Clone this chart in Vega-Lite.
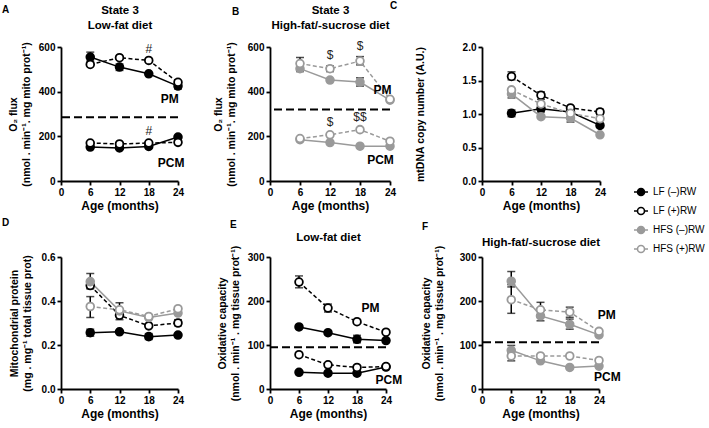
{
"$schema":"https://vega.github.io/schema/vega-lite/v6.json",
"background":"white",
"autosize":{"type":"none"},
"padding":{"left":61,"top":47,"right":648,"bottom":381},
"config":{
 "font":"Liberation Sans",
 "view":{"stroke":null},
 "axis":{"domainColor":"black","domainWidth":1.8,"tickColor":"black","tickWidth":1.8,"tickSize":4,"labelColor":"black","labelFontSize":10,"labelFontWeight":"bold","labelPadding":2,"labelFlush":false,"titleColor":"black","titleFontWeight":"bold","grid":false,"labelFont":"Liberation Sans","titleFont":"Liberation Sans"},
 "axisX":{"titleFontSize":12,"titlePadding":3},
 "axisY":{"titleFontSize":10.5,"titleLineHeight":12.5},
 "title":{"font":"Liberation Sans","fontSize":10,"fontWeight":"bold","color":"black"},
 "legend":{"symbolType":"M-1,0L-0.5,0M0.5,0L1,0M0.5,0A0.5,0.5,0,1,1,-0.5,0A0.5,0.5,0,1,1,0.5,0Z"}
},
"datasets":{
 "pts":[
  {"p":"A","g":"LF (–)RW","s":"PM","a":6,"v":555},{"p":"A","g":"LF (–)RW","s":"PM","a":12,"v":510},{"p":"A","g":"LF (–)RW","s":"PM","a":18,"v":480},{"p":"A","g":"LF (–)RW","s":"PM","a":24,"v":425},
  {"p":"A","g":"LF (+)RW","s":"PM","a":6,"v":522},{"p":"A","g":"LF (+)RW","s":"PM","a":12,"v":552},{"p":"A","g":"LF (+)RW","s":"PM","a":18,"v":540},{"p":"A","g":"LF (+)RW","s":"PM","a":24,"v":442},
  {"p":"A","g":"LF (–)RW","s":"PCM","a":6,"v":152},{"p":"A","g":"LF (–)RW","s":"PCM","a":12,"v":148},{"p":"A","g":"LF (–)RW","s":"PCM","a":18,"v":155},{"p":"A","g":"LF (–)RW","s":"PCM","a":24,"v":197},
  {"p":"A","g":"LF (+)RW","s":"PCM","a":6,"v":170},{"p":"A","g":"LF (+)RW","s":"PCM","a":12,"v":166},{"p":"A","g":"LF (+)RW","s":"PCM","a":18,"v":170},{"p":"A","g":"LF (+)RW","s":"PCM","a":24,"v":173},
  {"p":"B","g":"HFS (–)RW","s":"PM","a":6,"v":503},{"p":"B","g":"HFS (–)RW","s":"PM","a":12,"v":452},{"p":"B","g":"HFS (–)RW","s":"PM","a":18,"v":443},{"p":"B","g":"HFS (–)RW","s":"PM","a":24,"v":362},
  {"p":"B","g":"HFS (+)RW","s":"PM","a":6,"v":526},{"p":"B","g":"HFS (+)RW","s":"PM","a":12,"v":503},{"p":"B","g":"HFS (+)RW","s":"PM","a":18,"v":537},{"p":"B","g":"HFS (+)RW","s":"PM","a":24,"v":366},
  {"p":"B","g":"HFS (–)RW","s":"PCM","a":6,"v":185},{"p":"B","g":"HFS (–)RW","s":"PCM","a":12,"v":172},{"p":"B","g":"HFS (–)RW","s":"PCM","a":18,"v":156},{"p":"B","g":"HFS (–)RW","s":"PCM","a":24,"v":156},
  {"p":"B","g":"HFS (+)RW","s":"PCM","a":6,"v":190},{"p":"B","g":"HFS (+)RW","s":"PCM","a":12,"v":207},{"p":"B","g":"HFS (+)RW","s":"PCM","a":18,"v":230},{"p":"B","g":"HFS (+)RW","s":"PCM","a":24,"v":178},
  {"p":"C","g":"LF (–)RW","s":"x","a":6,"v":1.01},{"p":"C","g":"LF (–)RW","s":"x","a":12,"v":1.08},{"p":"C","g":"LF (–)RW","s":"x","a":18,"v":1.03},{"p":"C","g":"LF (–)RW","s":"x","a":24,"v":0.83},
  {"p":"C","g":"LF (+)RW","s":"x","a":6,"v":1.56},{"p":"C","g":"LF (+)RW","s":"x","a":12,"v":1.28},{"p":"C","g":"LF (+)RW","s":"x","a":18,"v":1.09},{"p":"C","g":"LF (+)RW","s":"x","a":24,"v":1.03},
  {"p":"C","g":"HFS (–)RW","s":"x","a":6,"v":1.30},{"p":"C","g":"HFS (–)RW","s":"x","a":12,"v":0.96},{"p":"C","g":"HFS (–)RW","s":"x","a":18,"v":0.94},{"p":"C","g":"HFS (–)RW","s":"x","a":24,"v":0.69},
  {"p":"C","g":"HFS (+)RW","s":"x","a":6,"v":1.36},{"p":"C","g":"HFS (+)RW","s":"x","a":12,"v":1.15},{"p":"C","g":"HFS (+)RW","s":"x","a":18,"v":1.01},{"p":"C","g":"HFS (+)RW","s":"x","a":24,"v":0.93},
  {"p":"D","g":"LF (–)RW","s":"x","a":6,"v":0.256},{"p":"D","g":"LF (–)RW","s":"x","a":12,"v":0.26},{"p":"D","g":"LF (–)RW","s":"x","a":18,"v":0.238},{"p":"D","g":"LF (–)RW","s":"x","a":24,"v":0.245},
  {"p":"D","g":"LF (+)RW","s":"x","a":6,"v":0.47},{"p":"D","g":"LF (+)RW","s":"x","a":12,"v":0.335},{"p":"D","g":"LF (+)RW","s":"x","a":18,"v":0.287},{"p":"D","g":"LF (+)RW","s":"x","a":24,"v":0.30},
  {"p":"D","g":"HFS (–)RW","s":"x","a":6,"v":0.488},{"p":"D","g":"HFS (–)RW","s":"x","a":12,"v":0.355},{"p":"D","g":"HFS (–)RW","s":"x","a":18,"v":0.325},{"p":"D","g":"HFS (–)RW","s":"x","a":24,"v":0.345},
  {"p":"D","g":"HFS (+)RW","s":"x","a":6,"v":0.375},{"p":"D","g":"HFS (+)RW","s":"x","a":12,"v":0.36},{"p":"D","g":"HFS (+)RW","s":"x","a":18,"v":0.33},{"p":"D","g":"HFS (+)RW","s":"x","a":24,"v":0.365},
  {"p":"E","g":"LF (–)RW","s":"PM","a":6,"v":141},{"p":"E","g":"LF (–)RW","s":"PM","a":12,"v":128},{"p":"E","g":"LF (–)RW","s":"PM","a":18,"v":113},{"p":"E","g":"LF (–)RW","s":"PM","a":24,"v":110},
  {"p":"E","g":"LF (+)RW","s":"PM","a":6,"v":243},{"p":"E","g":"LF (+)RW","s":"PM","a":12,"v":184},{"p":"E","g":"LF (+)RW","s":"PM","a":18,"v":153},{"p":"E","g":"LF (+)RW","s":"PM","a":24,"v":129},
  {"p":"E","g":"LF (–)RW","s":"PCM","a":6,"v":38},{"p":"E","g":"LF (–)RW","s":"PCM","a":12,"v":36},{"p":"E","g":"LF (–)RW","s":"PCM","a":18,"v":36},{"p":"E","g":"LF (–)RW","s":"PCM","a":24,"v":50},
  {"p":"E","g":"LF (+)RW","s":"PCM","a":6,"v":78},{"p":"E","g":"LF (+)RW","s":"PCM","a":12,"v":55},{"p":"E","g":"LF (+)RW","s":"PCM","a":18,"v":49},{"p":"E","g":"LF (+)RW","s":"PCM","a":24,"v":51},
  {"p":"F","g":"HFS (–)RW","s":"PM","a":6,"v":245},{"p":"F","g":"HFS (–)RW","s":"PM","a":12,"v":166},{"p":"F","g":"HFS (–)RW","s":"PM","a":18,"v":147},{"p":"F","g":"HFS (–)RW","s":"PM","a":24,"v":123},
  {"p":"F","g":"HFS (+)RW","s":"PM","a":6,"v":203},{"p":"F","g":"HFS (+)RW","s":"PM","a":12,"v":180},{"p":"F","g":"HFS (+)RW","s":"PM","a":18,"v":175},{"p":"F","g":"HFS (+)RW","s":"PM","a":24,"v":131},
  {"p":"F","g":"HFS (–)RW","s":"PCM","a":6,"v":88},{"p":"F","g":"HFS (–)RW","s":"PCM","a":12,"v":64},{"p":"F","g":"HFS (–)RW","s":"PCM","a":18,"v":49},{"p":"F","g":"HFS (–)RW","s":"PCM","a":24,"v":52},
  {"p":"F","g":"HFS (+)RW","s":"PCM","a":6,"v":75},{"p":"F","g":"HFS (+)RW","s":"PCM","a":12,"v":75},{"p":"F","g":"HFS (+)RW","s":"PCM","a":18,"v":75},{"p":"F","g":"HFS (+)RW","s":"PCM","a":24,"v":65}
 ],
 "err":[
  {"p":"A","a":6,"lo":537,"hi":577},{"p":"A","a":12,"lo":495,"hi":524},{"p":"A","a":24,"lo":412,"hi":437},
  {"p":"B","a":6,"lo":505,"hi":553},{"p":"B","a":6,"lo":490,"hi":512},{"p":"B","a":12,"lo":490,"hi":515},{"p":"B","a":18,"lo":520,"hi":557},{"p":"B","a":18,"lo":425,"hi":462},
  {"p":"C","a":6,"lo":0.96,"hi":1.06},{"p":"C","a":12,"lo":1.03,"hi":1.13},{"p":"C","a":6,"lo":1.51,"hi":1.63},{"p":"C","a":12,"lo":1.22,"hi":1.33},{"p":"C","a":6,"lo":1.24,"hi":1.36},{"p":"C","a":18,"lo":0.88,"hi":1.0},{"p":"C","a":24,"lo":0.99,"hi":1.07},
  {"p":"D","a":6,"lo":0.24,"hi":0.272},{"p":"D","a":18,"lo":0.225,"hi":0.252},{"p":"D","a":6,"lo":0.455,"hi":0.49},{"p":"D","a":6,"lo":0.46,"hi":0.525},{"p":"D","a":6,"lo":0.325,"hi":0.42},{"p":"D","a":12,"lo":0.315,"hi":0.355},{"p":"D","a":12,"lo":0.34,"hi":0.392},{"p":"D","a":24,"lo":0.288,"hi":0.315},
  {"p":"E","a":6,"lo":230,"hi":257},{"p":"E","a":12,"lo":175,"hi":193},{"p":"E","a":18,"lo":105,"hi":122},
  {"p":"F","a":6,"lo":232,"hi":267},{"p":"F","a":6,"lo":172,"hi":237},{"p":"F","a":12,"lo":155,"hi":178},{"p":"F","a":12,"lo":168,"hi":197},{"p":"F","a":18,"lo":136,"hi":159},{"p":"F","a":18,"lo":163,"hi":186},{"p":"F","a":6,"lo":79,"hi":99},{"p":"F","a":6,"lo":64,"hi":84}
 ],
 "sep":[{"p":"A","v":285},{"p":"B","v":320},{"p":"E","v":95},{"p":"F","v":106}],
 "ann":[
  {"p":"A","k":"L","t":"PM","a":22.3,"v":367},{"p":"A","k":"L","t":"PCM","a":22.6,"v":82},
  {"p":"A","k":"S","t":"#","a":18,"v":592},{"p":"A","k":"S","t":"#","a":18,"v":222},
  {"p":"B","k":"L","t":"PM","a":22.5,"v":406},{"p":"B","k":"L","t":"PCM","a":22.1,"v":94},
  {"p":"B","k":"S","t":"$","a":12,"v":565},{"p":"B","k":"S","t":"$","a":18,"v":603},{"p":"B","k":"S","t":"$","a":12,"v":263},{"p":"B","k":"S","t":"$$","a":18,"v":287},
  {"p":"E","k":"L","t":"PM","a":20.8,"v":183},{"p":"E","k":"L","t":"PCM","a":24.6,"v":20},
  {"p":"F","k":"L","t":"PM","a":25.6,"v":169},{"p":"F","k":"L","t":"PCM","a":25.7,"v":28}
 ]
},
"columns":3,
"spacing":{"row":76,"column":92},
"bounds":"flush",
"concat":[
  {"width":117,"height":134,
   "title":{"text":"A","anchor":"start","frame":"group","dx":-59,"dy":15},
   "resolve":{"axis":{"x":"independent","y":"independent"}},
   "layer":[
    {"data":{"name":"sep"},"transform":[{"filter":"datum.p==='A'"}],"mark":{"type":"rule","color":"black","strokeWidth":2,"strokeDash":[8,4]},"encoding":{"y":{"field":"v","type":"quantitative","scale":{"domain":[0,600],"nice":false},"axis":null}}},
    {"data":{"name":"err"},"transform":[{"filter":"datum.p==='A'"}],"mark":{"type":"rule","color":"black","strokeWidth":1.5},"encoding":{"x":{"field":"a","type":"quantitative","scale":{"domain":[0,24],"nice":false},"axis":null},"y":{"field":"lo","type":"quantitative","scale":{"domain":[0,600],"nice":false},"axis":null},"y2":{"field":"hi"}}},
    {"data":{"name":"err"},"transform":[{"filter":"datum.p==='A'"},{"fold":["lo","hi"],"as":["kk","yv"]}],"mark":{"type":"tick","orient":"horizontal","color":"black","size":8,"thickness":1.5},"encoding":{"x":{"field":"a","type":"quantitative","axis":null},"y":{"field":"yv","type":"quantitative","axis":null}}},
    {"data":{"name":"pts"},"transform":[{"filter":"datum.p==='A' && indexof(datum.g,'(–)')>=0"}],"mark":{"type":"line","strokeWidth":1.5},"encoding":{
      "x":{"field":"a","type":"quantitative","scale":{"domain":[0,24],"nice":false},"axis":{"values":[0,6,12,18,24],"title":"Age (months)"}},
      "y":{"field":"v","type":"quantitative","scale":{"domain":[0,600],"nice":false},"axis":{"values":[0,200,400,600],"title":["O₂ flux","(nmol . min⁻¹. mg mito prot⁻¹)"],"titlePadding":7}},
      "stroke":{"field":"g","type":"nominal","scale":{"domain":["LF (–)RW","LF (+)RW","HFS (–)RW","HFS (+)RW"],"range":["#000000","#000000","#9a9a9a","#9a9a9a"]}},
      "detail":{"field":"s"}}},
    {"data":{"name":"pts"},"transform":[{"filter":"datum.p==='A' && indexof(datum.g,'(+)')>=0"}],"mark":{"type":"line","strokeWidth":1.5,"strokeDash":[4,2.5]},"encoding":{
      "x":{"field":"a","type":"quantitative","axis":null},
      "y":{"field":"v","type":"quantitative","axis":null},
      "stroke":{"field":"g","type":"nominal"},
      "detail":{"field":"s"}}},
    {"data":{"name":"pts"},"transform":[{"filter":"datum.p==='A'"}],"mark":{"type":"point","shape":"circle","size":60,"strokeWidth":1.8,"opacity":1},"encoding":{
      "x":{"field":"a","type":"quantitative","axis":null},
      "y":{"field":"v","type":"quantitative","axis":null},
      "stroke":{"field":"g","type":"nominal","legend":{"title":null,"orient":"none","legendX":572,"legendY":137,"symbolSize":196,"symbolStrokeWidth":1.6,"labelFontSize":10,"labelFontWeight":"normal","labelColor":"black","rowPadding":4,"labelOffset":4,"symbolType":"M-1,0L-0.5,0M0.5,0L1,0M0.5,0A0.5,0.5,0,1,1,-0.5,0A0.5,0.5,0,1,1,0.5,0Z"}},
      "fill":{"field":"g","type":"nominal","scale":{"domain":["LF (–)RW","LF (+)RW","HFS (–)RW","HFS (+)RW"],"range":["#000000","#ffffff","#9a9a9a","#ffffff"]},"legend":{"title":null,"orient":"none","legendX":572,"legendY":137,"symbolSize":196,"symbolStrokeWidth":1.6,"labelFontSize":10,"labelFontWeight":"normal","labelColor":"black","rowPadding":4,"labelOffset":4,"symbolType":"M-1,0L-0.5,0M0.5,0L1,0M0.5,0A0.5,0.5,0,1,1,-0.5,0A0.5,0.5,0,1,1,0.5,0Z"}}}},
    {"data":{"name":"ann"},"transform":[{"filter":"datum.p==='A' && datum.k==='L'"}],"mark":{"type":"text","fontWeight":"bold","fontSize":12,"fill":"black"},"encoding":{
      "x":{"field":"a","type":"quantitative","scale":{"domain":[0,24],"nice":false},"axis":{"orient":"top","domain":false,"ticks":false,"labels":false,"title":["State 3","Low-fat diet"],"titleFontSize":11.5,"titleLineHeight":15,"titlePadding":17}},
      "y":{"field":"v","type":"quantitative","axis":null},"text":{"field":"t"}}},
    {"data":{"name":"ann"},"transform":[{"filter":"datum.p==='A' && datum.k==='S'"}],"mark":{"type":"text","fontSize":12,"fontWeight":"normal","color":"#222222","fill":"#222222"},"encoding":{
      "x":{"field":"a","type":"quantitative","axis":null},"y":{"field":"v","type":"quantitative","axis":null},"text":{"field":"t"},"fill":{"value":"#222222"}}}
   ]},
  {"width":120,"height":134,
   "title":{"text":"B","anchor":"start","frame":"group","dx":-38,"dy":17},
   "resolve":{"axis":{"x":"independent","y":"independent"}},
   "layer":[
    {"data":{"name":"sep"},"transform":[{"filter":"datum.p==='B'"}],"mark":{"type":"rule","color":"black","strokeWidth":2,"strokeDash":[8,4]},"encoding":{"y":{"field":"v","type":"quantitative","scale":{"domain":[0,600],"nice":false},"axis":null}}},
    {"data":{"name":"err"},"transform":[{"filter":"datum.p==='B'"}],"mark":{"type":"rule","color":"black","strokeWidth":1.5},"encoding":{"x":{"field":"a","type":"quantitative","scale":{"domain":[0,24],"nice":false},"axis":null},"y":{"field":"lo","type":"quantitative","scale":{"domain":[0,600],"nice":false},"axis":null},"y2":{"field":"hi"}}},
    {"data":{"name":"err"},"transform":[{"filter":"datum.p==='B'"},{"fold":["lo","hi"],"as":["kk","yv"]}],"mark":{"type":"tick","orient":"horizontal","color":"black","size":8,"thickness":1.5},"encoding":{"x":{"field":"a","type":"quantitative","axis":null},"y":{"field":"yv","type":"quantitative","axis":null}}},
    {"data":{"name":"pts"},"transform":[{"filter":"datum.p==='B' && indexof(datum.g,'(–)')>=0"}],"mark":{"type":"line","strokeWidth":1.5},"encoding":{
      "x":{"field":"a","type":"quantitative","scale":{"domain":[0,24],"nice":false},"axis":{"values":[0,6,12,18,24],"title":"Age (months)"}},
      "y":{"field":"v","type":"quantitative","scale":{"domain":[0,600],"nice":false},"axis":{"values":[0,200,400,600],"title":["O₂ flux","(nmol . min⁻¹. mg mito prot⁻¹)"],"titlePadding":11}},
      "stroke":{"field":"g","type":"nominal"},
      "detail":{"field":"s"}}},
    {"data":{"name":"pts"},"transform":[{"filter":"datum.p==='B' && indexof(datum.g,'(+)')>=0"}],"mark":{"type":"line","strokeWidth":1.5,"strokeDash":[4,2.5]},"encoding":{
      "x":{"field":"a","type":"quantitative","axis":null},
      "y":{"field":"v","type":"quantitative","axis":null},
      "stroke":{"field":"g","type":"nominal"},
      "detail":{"field":"s"}}},
    {"data":{"name":"pts"},"transform":[{"filter":"datum.p==='B'"}],"mark":{"type":"point","shape":"circle","size":60,"strokeWidth":1.8,"opacity":1},"encoding":{
      "x":{"field":"a","type":"quantitative","axis":null},
      "y":{"field":"v","type":"quantitative","axis":null},
      "stroke":{"field":"g","type":"nominal"},
      "fill":{"field":"g","type":"nominal"}}},
    {"data":{"name":"ann"},"transform":[{"filter":"datum.p==='B' && datum.k==='L'"}],"mark":{"type":"text","fontWeight":"bold","fontSize":12,"fill":"black"},"encoding":{
      "x":{"field":"a","type":"quantitative","scale":{"domain":[0,24],"nice":false},"axis":{"orient":"top","domain":false,"ticks":false,"labels":false,"title":["State 3","High-fat/-sucrose diet"],"titleFontSize":11.5,"titleLineHeight":15,"titlePadding":17}},
      "y":{"field":"v","type":"quantitative","axis":null},"text":{"field":"t"}}},
    {"data":{"name":"ann"},"transform":[{"filter":"datum.p==='B' && datum.k==='S'"}],"mark":{"type":"text","fontSize":12,"fontWeight":"normal","color":"#222222","fill":"#222222"},"encoding":{
      "x":{"field":"a","type":"quantitative","axis":null},"y":{"field":"v","type":"quantitative","axis":null},"text":{"field":"t"},"fill":{"value":"#222222"}}}
   ]},
  {"width":118,"height":134,
   "title":{"text":"C","anchor":"start","frame":"group","dx":-92,"dy":-27},
   "resolve":{"axis":{"x":"independent","y":"independent"}},
   "layer":[
    {"data":{"name":"err"},"transform":[{"filter":"datum.p==='C'"}],"mark":{"type":"rule","color":"black","strokeWidth":1.5},"encoding":{"x":{"field":"a","type":"quantitative","scale":{"domain":[0,24],"nice":false},"axis":null},"y":{"field":"lo","type":"quantitative","scale":{"domain":[0,2],"nice":false},"axis":null},"y2":{"field":"hi"}}},
    {"data":{"name":"err"},"transform":[{"filter":"datum.p==='C'"},{"fold":["lo","hi"],"as":["kk","yv"]}],"mark":{"type":"tick","orient":"horizontal","color":"black","size":8,"thickness":1.5},"encoding":{"x":{"field":"a","type":"quantitative","axis":null},"y":{"field":"yv","type":"quantitative","axis":null}}},
    {"data":{"name":"pts"},"transform":[{"filter":"datum.p==='C' && indexof(datum.g,'(–)')>=0"}],"mark":{"type":"line","strokeWidth":1.5},"encoding":{
      "x":{"field":"a","type":"quantitative","scale":{"domain":[0,24],"nice":false},"axis":{"values":[0,6,12,18,24],"title":"Age (months)"}},
      "y":{"field":"v","type":"quantitative","scale":{"domain":[0,2],"nice":false},"axis":{"values":[0,0.5,1,1.5,2],"format":".1f","title":"mtDNA copy number (A.U.)","titlePadding":37}},
      "stroke":{"field":"g","type":"nominal"},
      "detail":{"field":"s"}}},
    {"data":{"name":"pts"},"transform":[{"filter":"datum.p==='C' && indexof(datum.g,'(+)')>=0"}],"mark":{"type":"line","strokeWidth":1.5,"strokeDash":[4,2.5]},"encoding":{
      "x":{"field":"a","type":"quantitative","axis":null},
      "y":{"field":"v","type":"quantitative","axis":null},
      "stroke":{"field":"g","type":"nominal"},
      "detail":{"field":"s"}}},
    {"data":{"name":"pts"},"transform":[{"filter":"datum.p==='C'"}],"mark":{"type":"point","shape":"circle","size":60,"strokeWidth":1.8,"opacity":1},"encoding":{
      "x":{"field":"a","type":"quantitative","axis":null},
      "y":{"field":"v","type":"quantitative","axis":null},
      "stroke":{"field":"g","type":"nominal"},
      "fill":{"field":"g","type":"nominal"}}}
   ]},
  {"width":117,"height":132,
   "title":{"text":"D","anchor":"start","frame":"group","dx":-59,"dy":-20},
   "resolve":{"axis":{"x":"independent","y":"independent"}},
   "layer":[
    {"data":{"name":"err"},"transform":[{"filter":"datum.p==='D'"}],"mark":{"type":"rule","color":"black","strokeWidth":1.5},"encoding":{"x":{"field":"a","type":"quantitative","scale":{"domain":[0,24],"nice":false},"axis":null},"y":{"field":"lo","type":"quantitative","scale":{"domain":[0,0.6],"nice":false},"axis":null},"y2":{"field":"hi"}}},
    {"data":{"name":"err"},"transform":[{"filter":"datum.p==='D'"},{"fold":["lo","hi"],"as":["kk","yv"]}],"mark":{"type":"tick","orient":"horizontal","color":"black","size":8,"thickness":1.5},"encoding":{"x":{"field":"a","type":"quantitative","axis":null},"y":{"field":"yv","type":"quantitative","axis":null}}},
    {"data":{"name":"pts"},"transform":[{"filter":"datum.p==='D' && indexof(datum.g,'(–)')>=0"}],"mark":{"type":"line","strokeWidth":1.5},"encoding":{
      "x":{"field":"a","type":"quantitative","scale":{"domain":[0,24],"nice":false},"axis":{"values":[0,6,12,18,24],"title":"Age (months)"}},
      "y":{"field":"v","type":"quantitative","scale":{"domain":[0,0.6],"nice":false},"axis":{"values":[0,0.2,0.4,0.6],"format":".1f","title":["Mitochondrial protein","(mg . mg⁻¹ total tissue prot)"],"titlePadding":9}},
      "stroke":{"field":"g","type":"nominal"},
      "detail":{"field":"s"}}},
    {"data":{"name":"pts"},"transform":[{"filter":"datum.p==='D' && indexof(datum.g,'(+)')>=0"}],"mark":{"type":"line","strokeWidth":1.5,"strokeDash":[4,2.5]},"encoding":{
      "x":{"field":"a","type":"quantitative","axis":null},
      "y":{"field":"v","type":"quantitative","axis":null},
      "stroke":{"field":"g","type":"nominal"},
      "detail":{"field":"s"}}},
    {"data":{"name":"pts"},"transform":[{"filter":"datum.p==='D'"}],"mark":{"type":"point","shape":"circle","size":60,"strokeWidth":1.8,"opacity":1},"encoding":{
      "x":{"field":"a","type":"quantitative","axis":null},
      "y":{"field":"v","type":"quantitative","axis":null},
      "stroke":{"field":"g","type":"nominal"},
      "fill":{"field":"g","type":"nominal"}}}
   ]},
  {"width":116,"height":132,
   "title":{"text":"E","anchor":"start","frame":"group","dx":-40,"dy":3},
   "resolve":{"axis":{"x":"independent","y":"independent"}},
   "layer":[
    {"data":{"name":"sep"},"transform":[{"filter":"datum.p==='E'"}],"mark":{"type":"rule","color":"black","strokeWidth":2,"strokeDash":[8,4]},"encoding":{"y":{"field":"v","type":"quantitative","scale":{"domain":[0,300],"nice":false},"axis":null}}},
    {"data":{"name":"err"},"transform":[{"filter":"datum.p==='E'"}],"mark":{"type":"rule","color":"black","strokeWidth":1.5},"encoding":{"x":{"field":"a","type":"quantitative","scale":{"domain":[0,24],"nice":false},"axis":null},"y":{"field":"lo","type":"quantitative","scale":{"domain":[0,300],"nice":false},"axis":null},"y2":{"field":"hi"}}},
    {"data":{"name":"err"},"transform":[{"filter":"datum.p==='E'"},{"fold":["lo","hi"],"as":["kk","yv"]}],"mark":{"type":"tick","orient":"horizontal","color":"black","size":8,"thickness":1.5},"encoding":{"x":{"field":"a","type":"quantitative","axis":null},"y":{"field":"yv","type":"quantitative","axis":null}}},
    {"data":{"name":"pts"},"transform":[{"filter":"datum.p==='E' && indexof(datum.g,'(–)')>=0"}],"mark":{"type":"line","strokeWidth":1.5},"encoding":{
      "x":{"field":"a","type":"quantitative","scale":{"domain":[0,24],"nice":false},"axis":{"values":[0,6,12,18,24],"title":"Age (months)"}},
      "y":{"field":"v","type":"quantitative","scale":{"domain":[0,300],"nice":false},"axis":{"values":[0,100,200,300],"title":["Oxidative capacity","(nmol . min⁻¹ . mg tissue prot⁻¹)"],"titlePadding":7}},
      "stroke":{"field":"g","type":"nominal"},
      "detail":{"field":"s"}}},
    {"data":{"name":"pts"},"transform":[{"filter":"datum.p==='E' && indexof(datum.g,'(+)')>=0"}],"mark":{"type":"line","strokeWidth":1.5,"strokeDash":[4,2.5]},"encoding":{
      "x":{"field":"a","type":"quantitative","axis":null},
      "y":{"field":"v","type":"quantitative","axis":null},
      "stroke":{"field":"g","type":"nominal"},
      "detail":{"field":"s"}}},
    {"data":{"name":"pts"},"transform":[{"filter":"datum.p==='E'"}],"mark":{"type":"point","shape":"circle","size":60,"strokeWidth":1.8,"opacity":1},"encoding":{
      "x":{"field":"a","type":"quantitative","axis":null},
      "y":{"field":"v","type":"quantitative","axis":null},
      "stroke":{"field":"g","type":"nominal"},
      "fill":{"field":"g","type":"nominal"}}},
    {"data":{"name":"ann"},"transform":[{"filter":"datum.p==='E' && datum.k==='L'"}],"mark":{"type":"text","fontWeight":"bold","fontSize":12,"fill":"black"},"encoding":{
      "x":{"field":"a","type":"quantitative","scale":{"domain":[0,24],"nice":false},"axis":{"orient":"top","domain":false,"ticks":false,"labels":false,"title":"Low-fat diet","titleFontSize":11.5,"titlePadding":15}},
      "y":{"field":"v","type":"quantitative","axis":null},"text":{"field":"t"}}}
   ]},
  {"width":117,"height":132,
   "title":{"text":"F","anchor":"start","frame":"group","dx":-60,"dy":0},
   "resolve":{"axis":{"x":"independent","y":"independent"}},
   "layer":[
    {"data":{"name":"sep"},"transform":[{"filter":"datum.p==='F'"}],"mark":{"type":"rule","color":"black","strokeWidth":2,"strokeDash":[8,4]},"encoding":{"y":{"field":"v","type":"quantitative","scale":{"domain":[0,300],"nice":false},"axis":null}}},
    {"data":{"name":"err"},"transform":[{"filter":"datum.p==='F'"}],"mark":{"type":"rule","color":"black","strokeWidth":1.5},"encoding":{"x":{"field":"a","type":"quantitative","scale":{"domain":[0,24],"nice":false},"axis":null},"y":{"field":"lo","type":"quantitative","scale":{"domain":[0,300],"nice":false},"axis":null},"y2":{"field":"hi"}}},
    {"data":{"name":"err"},"transform":[{"filter":"datum.p==='F'"},{"fold":["lo","hi"],"as":["kk","yv"]}],"mark":{"type":"tick","orient":"horizontal","color":"black","size":8,"thickness":1.5},"encoding":{"x":{"field":"a","type":"quantitative","axis":null},"y":{"field":"yv","type":"quantitative","axis":null}}},
    {"data":{"name":"pts"},"transform":[{"filter":"datum.p==='F' && indexof(datum.g,'(–)')>=0"}],"mark":{"type":"line","strokeWidth":1.5},"encoding":{
      "x":{"field":"a","type":"quantitative","scale":{"domain":[0,24],"nice":false},"axis":{"values":[0,6,12,18,24],"title":"Age (months)"}},
      "y":{"field":"v","type":"quantitative","scale":{"domain":[0,300],"nice":false},"axis":{"values":[0,100,200,300],"title":["Oxidative capacity","(nmol . min⁻¹ . mg tissue prot⁻¹)"],"titlePadding":15}},
      "stroke":{"field":"g","type":"nominal"},
      "detail":{"field":"s"}}},
    {"data":{"name":"pts"},"transform":[{"filter":"datum.p==='F' && indexof(datum.g,'(+)')>=0"}],"mark":{"type":"line","strokeWidth":1.5,"strokeDash":[4,2.5]},"encoding":{
      "x":{"field":"a","type":"quantitative","axis":null},
      "y":{"field":"v","type":"quantitative","axis":null},
      "stroke":{"field":"g","type":"nominal"},
      "detail":{"field":"s"}}},
    {"data":{"name":"pts"},"transform":[{"filter":"datum.p==='F'"}],"mark":{"type":"point","shape":"circle","size":60,"strokeWidth":1.8,"opacity":1},"encoding":{
      "x":{"field":"a","type":"quantitative","axis":null},
      "y":{"field":"v","type":"quantitative","axis":null},
      "stroke":{"field":"g","type":"nominal"},
      "fill":{"field":"g","type":"nominal"}}},
    {"data":{"name":"ann"},"transform":[{"filter":"datum.p==='F' && datum.k==='L'"}],"mark":{"type":"text","fontWeight":"bold","fontSize":12,"fill":"black"},"encoding":{
      "x":{"field":"a","type":"quantitative","scale":{"domain":[0,24],"nice":false},"axis":{"orient":"top","domain":false,"ticks":false,"labels":false,"title":"High-fat/-sucrose diet","titleFontSize":11.5,"titlePadding":10}},
      "y":{"field":"v","type":"quantitative","axis":null},"text":{"field":"t"}}}
   ]}
]
}
